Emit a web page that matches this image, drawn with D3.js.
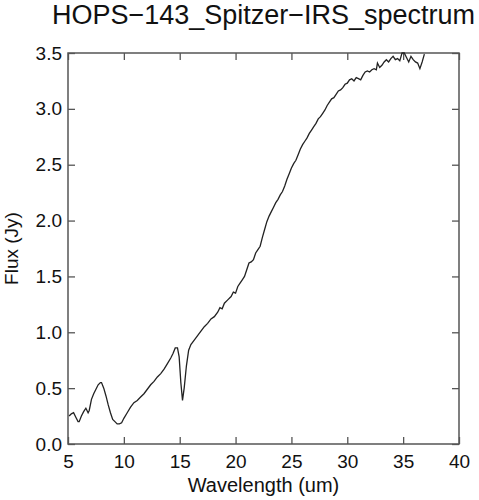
<!DOCTYPE html>
<html>
<head>
<meta charset="utf-8">
<script src="https://d3js.org/d3.v7.min.js"></script>
<style>
  body { margin: 0; background: white; }
  text { font-family: "Liberation Sans", Arial, sans-serif; fill: #111; }
  .tick text { font-size: 19px; }
  .tick line { stroke: #555; stroke-width: 1.3; }
</style>
</head>
<body>
<svg id="main" width="479" height="500"></svg>
<script>
// wavelength (um) and flux (Jy)
var wavelength = [5.1,5.3,5.5,5.7,5.9,6.0,6.2,6.4,6.6,6.8,6.9,7.1,7.3,7.5,7.7,7.9,8.0,8.2,8.4,8.6,8.8,9.0,9.2,9.4,9.6,9.8,
  10.0,10.3,10.6,10.9,11.2,11.5,11.8,12.1,12.4,12.7,13.0,13.3,13.6,13.9,14.2,14.4,14.6,14.8,14.95,15.1,15.25,15.4,15.6,15.8,
  16.0,16.3,16.6,16.9,17.2,17.5,17.8,18.1,18.4,18.6,18.8,19.0,19.3,19.6,19.8,20.0,20.2,20.4,20.6,20.8,21.0,21.2,21.4,21.6,21.8,
  22.0,22.2,22.4,22.6,22.8,23.0,23.2,23.4,23.6,23.8,24.0,24.2,24.4,24.6,24.8,25.0,25.2,25.4,25.6,25.8,26.0,26.2,26.4,26.6,26.8,
  27.0,27.2,27.4,27.6,27.8,28.0,28.2,28.4,28.6,28.8,29.0,29.2,29.4,29.6,29.8,30.0,30.2,30.4,30.6,30.8,31.0,31.2,31.4,31.6,31.8,
  32.0,32.2,32.4,32.6,32.7,32.9,33.1,33.3,33.5,33.7,33.9,34.1,34.3,34.5,34.7,34.9,35.1,35.3,35.5,35.7,35.9,36.1,36.3,36.5,36.7,36.9];
var flux = [0.25,0.27,0.28,0.24,0.20,0.20,0.25,0.29,0.32,0.28,0.30,0.40,0.45,0.49,0.53,0.55,0.55,0.50,0.43,0.35,0.28,0.22,0.20,0.18,0.18,0.19,
  0.23,0.28,0.33,0.37,0.39,0.42,0.45,0.49,0.53,0.56,0.60,0.63,0.67,0.72,0.77,0.81,0.86,0.86,0.78,0.55,0.39,0.50,0.70,0.84,
  0.89,0.93,0.97,1.01,1.05,1.08,1.12,1.14,1.18,1.22,1.21,1.26,1.29,1.32,1.36,1.35,1.41,1.44,1.47,1.50,1.56,1.62,1.63,1.65,1.71,
  1.74,1.77,1.85,1.92,1.99,2.04,2.08,2.12,2.16,2.19,2.23,2.26,2.31,2.37,2.42,2.47,2.51,2.54,2.59,2.64,2.68,2.71,2.74,2.78,2.81,
  2.84,2.87,2.91,2.93,2.96,2.99,3.03,3.06,3.09,3.10,3.13,3.16,3.17,3.19,3.22,3.23,3.26,3.27,3.25,3.28,3.27,3.26,3.30,3.33,3.34,
  3.33,3.35,3.36,3.35,3.41,3.37,3.39,3.42,3.44,3.42,3.45,3.47,3.44,3.45,3.43,3.50,3.50,3.46,3.42,3.47,3.44,3.42,3.41,3.36,3.42,3.49];

var xTicks = [5, 10, 15, 20, 25, 30, 35, 40];
var yTicks = [0, 0.5, 1.0, 1.5, 2.0, 2.5, 3.0, 3.5];

var plotLeft = 68, plotRight = 459, plotTop = 53, plotBottom = 444;
var TICK = 7;

var svg = d3.select('#main');

var x = d3.scaleLinear().domain([5, 40]).range([plotLeft, plotRight]);
var y = d3.scaleLinear().domain([0, 3.5]).range([plotBottom, plotTop]);

// title
svg.append('text')
  .attr('x', (plotLeft + plotRight) / 2)
  .attr('y', 24)
  .attr('text-anchor', 'middle')
  .style('font-size', '27px')
  .text('HOPS\u2212143_Spitzer\u2212IRS_spectrum');

// axes, ticks pointing inward
svg.append('g')
  .attr('transform', 'translate(0,' + plotBottom + ')')
  .call(d3.axisBottom(x).tickValues(xTicks).tickSizeInner(-TICK).tickSizeOuter(0).tickPadding(11).tickFormat(d3.format('d')));
svg.append('g')
  .attr('transform', 'translate(0,' + plotTop + ')')
  .call(d3.axisTop(x).tickValues(xTicks).tickSizeInner(-TICK).tickSizeOuter(0).tickFormat(''));
svg.append('g')
  .attr('transform', 'translate(' + plotLeft + ',0)')
  .call(d3.axisLeft(y).tickValues(yTicks).tickSizeInner(-TICK).tickSizeOuter(0).tickPadding(6).tickFormat(d3.format('.1f')));
svg.append('g')
  .attr('transform', 'translate(' + plotRight + ',0)')
  .call(d3.axisRight(y).tickValues(yTicks).tickSizeInner(-TICK).tickSizeOuter(0).tickFormat(''));

svg.selectAll('.domain').remove();

// frame
svg.append('rect')
  .attr('x', plotLeft).attr('y', plotTop)
  .attr('width', plotRight - plotLeft).attr('height', plotBottom - plotTop)
  .attr('fill', 'none')
  .attr('stroke', '#555')
  .attr('stroke-width', 1.5);

// spectrum
var line = d3.line()
  .x(function(d, i) { return x(wavelength[i]); })
  .y(function(d) { return y(d); });

svg.append('path')
  .datum(flux)
  .attr('d', line)
  .attr('fill', 'none')
  .attr('stroke', '#222')
  .attr('stroke-width', 1.3);

// axis labels
svg.append('text')
  .attr('x', (plotLeft + plotRight) / 2)
  .attr('y', 492)
  .attr('text-anchor', 'middle')
  .style('font-size', '20px')
  .text('Wavelength (um)');

svg.append('text')
  .attr('transform', 'translate(18,' + ((plotTop + plotBottom) / 2) + ') rotate(-90)')
  .attr('text-anchor', 'middle')
  .style('font-size', '19px')
  .text('Flux (Jy)');
</script>
</body>
</html>
